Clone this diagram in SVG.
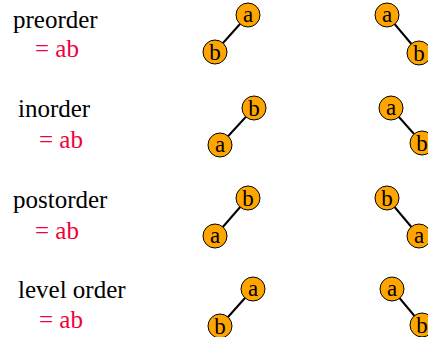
<svg xmlns="http://www.w3.org/2000/svg" width="428" height="337" viewBox="0 0 428 337">
<style>
.lbl{font-family:"Liberation Serif","Times New Roman",serif;font-size:25px;fill:#000}
.eq{font-family:"Liberation Serif","Times New Roman",serif;font-size:25px;fill:#f0003c}
.n circle{fill:#ffa500;stroke:#000;stroke-width:1}
.n text{font-family:"Liberation Serif","Times New Roman",serif;font-size:23px;fill:#000;text-anchor:middle}
.e line{stroke:#000;stroke-width:2}
</style>
<rect width="428" height="337" fill="#fff"/>
<g id="labels">
<text class="lbl" x="13" y="28">preorder</text>
<text class="eq" x="35" y="57">= ab</text>
<text class="lbl" x="18" y="117">inorder</text>
<text class="eq" x="39" y="148">= ab</text>
<text class="lbl" x="13" y="208">postorder</text>
<text class="eq" x="35" y="239">= ab</text>
<text class="lbl" x="18" y="298">level order</text>
<text class="eq" x="39" y="328">= ab</text>
</g>
<g id="connectors" class="e">
<line x1="248" y1="15" x2="215" y2="52"/>
<line x1="387" y1="15" x2="419" y2="53"/>
<line x1="254" y1="108" x2="220" y2="145"/>
<line x1="391" y1="108" x2="422" y2="143"/>
<line x1="248" y1="198" x2="215" y2="236"/>
<line x1="387" y1="198" x2="419" y2="236"/>
<line x1="253" y1="289" x2="220" y2="326"/>
<line x1="392" y1="289" x2="422" y2="325"/>
</g>
<g id="n1a" class="n"><circle cx="248" cy="15" r="12"/><text x="248" y="22">a</text></g>
<g id="n1b" class="n"><circle cx="215" cy="52" r="12"/><text x="215" y="60">b</text></g>
<g id="n2a" class="n"><circle cx="387" cy="15" r="12"/><text x="387" y="22">a</text></g>
<g id="n2b" class="n"><circle cx="419" cy="53" r="12"/><text x="419" y="61">b</text></g>
<g id="n3b" class="n"><circle cx="254" cy="108" r="12"/><text x="254" y="116">b</text></g>
<g id="n3a" class="n"><circle cx="220" cy="145" r="12"/><text x="220" y="152">a</text></g>
<g id="n4a" class="n"><circle cx="391" cy="108" r="12"/><text x="391" y="115">a</text></g>
<g id="n4b" class="n"><circle cx="422" cy="143" r="12"/><text x="422" y="151">b</text></g>
<g id="n5b" class="n"><circle cx="248" cy="198" r="12"/><text x="248" y="206">b</text></g>
<g id="n5a" class="n"><circle cx="215" cy="236" r="12"/><text x="215" y="243">a</text></g>
<g id="n6b" class="n"><circle cx="387" cy="198" r="12"/><text x="387" y="206">b</text></g>
<g id="n6a" class="n"><circle cx="419" cy="236" r="12"/><text x="419" y="243">a</text></g>
<g id="n7a" class="n"><circle cx="253" cy="289" r="12"/><text x="253" y="296">a</text></g>
<g id="n7b" class="n"><circle cx="220" cy="326" r="12"/><text x="220" y="334">b</text></g>
<g id="n8a" class="n"><circle cx="392" cy="289" r="12"/><text x="392" y="296">a</text></g>
<g id="n8b" class="n"><circle cx="422" cy="325" r="12"/><text x="422" y="333">b</text></g>
</svg>
